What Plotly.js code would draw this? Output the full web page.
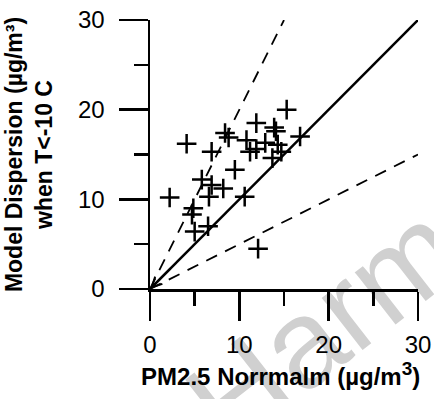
<!DOCTYPE html>
<html>
<head>
<meta charset="utf-8">
<script src="https://cdn.plot.ly/plotly-3.0.1.min.js"></script>
<style>html,body{margin:0;padding:0;background:#fff;}#chart{width:434px;height:399px;}</style>
</head>
<body>
<div id="chart"></div>
<script>
// Observed PM2.5 Norrmalm (x) vs modelled dispersion (y), µg/m3
var pmNorrmalm = [2.2, 4.1, 15.3, 11.9, 13.9, 14.1, 16.8, 10.8, 11.9, 12.9, 11.2, 14.3, 14.7, 13.7, 6.9, 8.4, 8.8, 9.5, 5.8, 6.9, 8.2, 6.6, 10.6, 4.85, 4.7, 5.0, 6.5, 12.1];
var modelDispersion = [10.2, 16.2, 20.0, 18.5, 18.0, 17.6, 17.0, 16.6, 15.6, 16.3, 15.3, 16.1, 15.3, 14.6, 15.3, 17.4, 16.9, 13.3, 12.2, 11.6, 11.2, 10.3, 10.3, 9.0, 8.3, 6.4, 7.0, 4.5];
// Reference lines 1:1, 2:1 and 1:2
var lineOneX = [0, 30], lineOneY = [0, 30];
var lineTwoX = [0, 15], lineTwoY = [0, 30];
var lineHalfX = [0, 30], lineHalfY = [0, 15];
var tickVals = [0, 10, 20, 30];
var tickText = ['0', '10', '20', '30'];

var FONT = 'Liberation Sans, Arial, sans-serif';
var traces = [
  {x: lineOneX, y: lineOneY, mode: 'lines', line: {color: '#000', width: 2.5}, hoverinfo: 'skip', cliponaxis: false},
  {x: lineTwoX, y: lineTwoY, mode: 'lines', line: {color: '#000', width: 1.8, dash: '12px,9px'}, hoverinfo: 'skip'},
  {x: lineHalfX, y: lineHalfY, mode: 'lines', line: {color: '#000', width: 1.8, dash: '12px,9px'}, hoverinfo: 'skip'},
  {x: pmNorrmalm, y: modelDispersion, mode: 'markers', cliponaxis: false,
   marker: {symbol: 'cross-thin-open', size: 14, color: '#000', line: {color: '#000', width: 2.5}}}
];

var axisCommon = {
  range: [0, 30], autorange: false, showgrid: false, zeroline: false,
  showline: true, linecolor: '#000', linewidth: 2.5,
  ticks: 'outside', ticklen: 29, tickwidth: 2.5, tickcolor: '#000',
  tickmode: 'array', tickvals: tickVals, ticktext: tickText,
  minor: {ticks: 'outside', ticklen: 14, tickwidth: 2.5, tickcolor: '#000', dtick: 5, tick0: 0, showgrid: false},
  tickfont: {family: FONT, size: 24, color: '#000'},
  fixedrange: true
};

var layout = {
  width: 434, height: 399,
  margin: {l: 150, r: 16, t: 20, b: 110},
  paper_bgcolor: '#fff', plot_bgcolor: 'rgba(0,0,0,0)',
  showlegend: false,
  xaxis: Object.assign({}, axisCommon, {
    ticklabelstandoff: 4,
    title: {text: 'PM2.5 Norrmalm (µg/m<sup><span style="font-size:19px">3</span></sup>)&nbsp;', font: {family: FONT, size: 24, color: '#000', weight: 700}, standoff: 4}
  }),
  yaxis: Object.assign({}, axisCommon, {
    ticklabelstandoff: 9,
    title: {text: 'Model Dispersion (µg/m³)<br>when T&lt;-10 C', font: {family: FONT, size: 23, color: '#000', weight: 700}, standoff: 19}
  }),
  shapes: [{
    type: 'rect', xref: 'paper', yref: 'paper', layer: 'below',
    x0: 0.52, x1: 0.72, y0: -0.2, y1: 0.0,
    line: {width: 0}, fillcolor: 'rgba(0,0,0,0)',
    label: {text: 'Harm', textangle: -38, textposition: 'middle center',
            font: {family: FONT, size: 125, color: '#d0d0d0'}}
  }],
  annotations: [{
    x: 0, y: 0, xref: 'x', yref: 'y', ax: 22, ay: -22, text: '',
    showarrow: true, arrowhead: 5, arrowsize: 1, arrowwidth: 2, arrowcolor: '#000'
  }]
};

Plotly.newPlot('chart', traces, layout, {staticPlot: true, displayModeBar: false});
</script>
</body>
</html>
